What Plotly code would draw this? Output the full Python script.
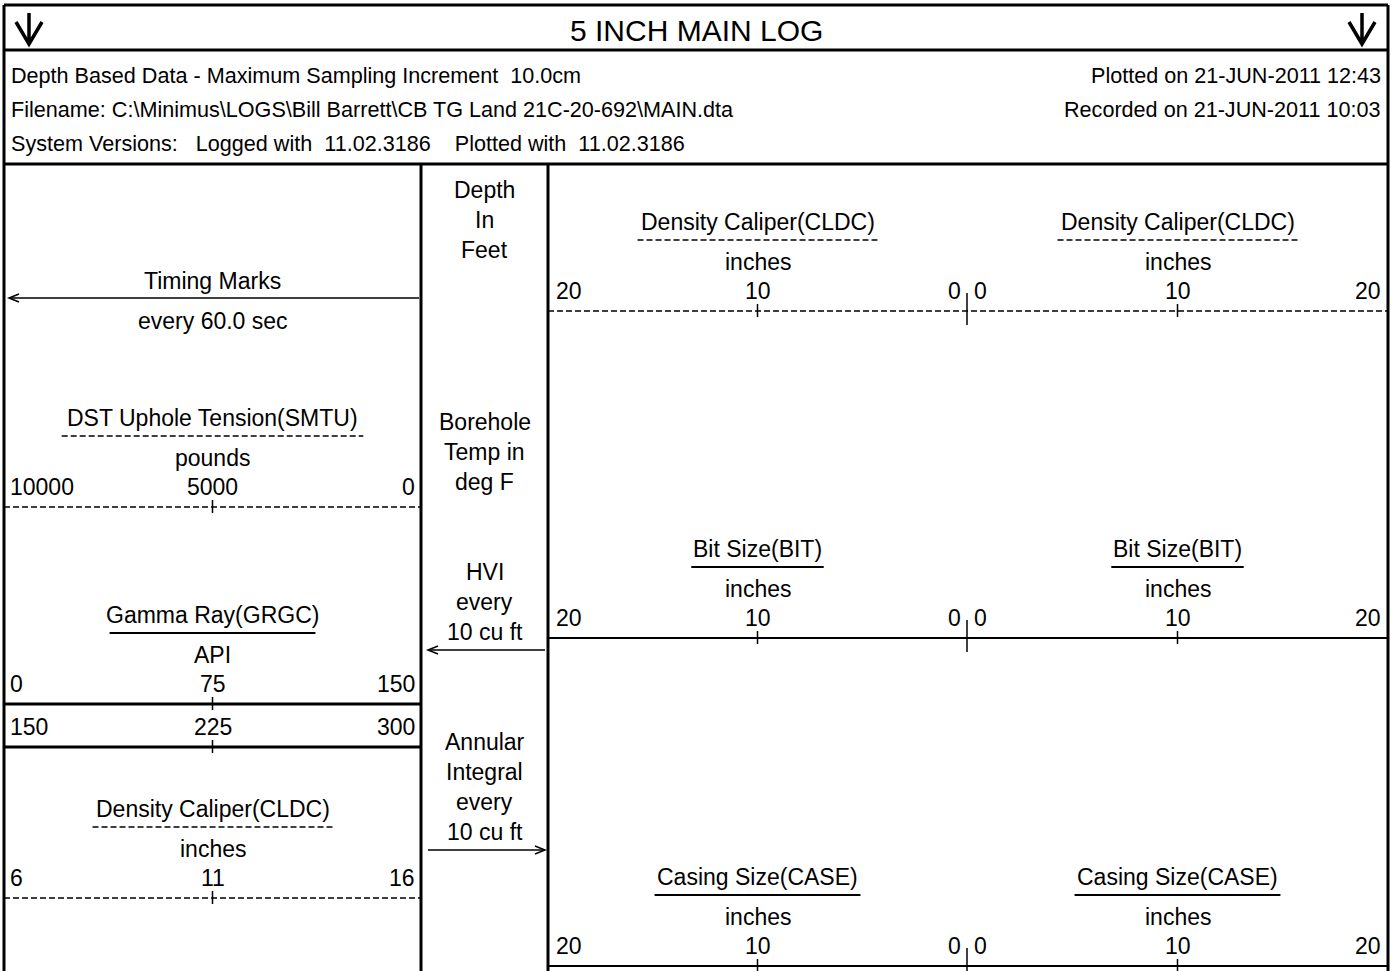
import plotly.graph_objects as go

title_text = "5 INCH MAIN LOG"
header_left = [
    "Depth Based Data - Maximum Sampling Increment  10.0cm",
    "Filename: C:\\Minimus\\LOGS\\Bill Barrett\\CB TG Land 21C-20-692\\MAIN.dta",
    "System Versions:   Logged with  11.02.3186    Plotted with  11.02.3186",
]
header_right = ["Plotted on 21-JUN-2011 12:43", "Recorded on 21-JUN-2011 10:03"]

timing_label = "Timing Marks"
timing_interval = "every 60.0 sec"

left_curves = ["DST Uphole Tension(SMTU)", "Gamma Ray(GRGC)", "Density Caliper(CLDC)"]
left_units = ["pounds", "API", "inches"]
left_scales = [[10000, 5000, 0], [0, 75, 150], [6, 11, 16]]
left_dashed = [True, False, True]
gamma_backup_scale = [150, 225, 300]

depth_track_labels = [
    ["Depth", "In", "Feet"],
    ["Borehole", "Temp in", "deg F"],
    ["HVI", "every", "10 cu ft"],
    ["Annular", "Integral", "every", "10 cu ft"],
]

right_curves = ["Density Caliper(CLDC)", "Bit Size(BIT)", "Casing Size(CASE)"]
right_units = ["inches", "inches", "inches"]
right_scale_left = [20, 10, 0]
right_scale_right = [0, 10, 20]
right_dashed = [True, False, False]

# ---------------- layout geometry ----------------
W, H = 1395, 971
FONT = "Liberation Sans, Arial, sans-serif"
FS = 23
X_L, X_T1, X_T2, X_C, X_R = 4, 421, 548, 967, 1388
Y_TOP, Y_TITLE, Y_HDR = 5, 50, 164
Y_BOT = 990
left_line_y = [507, 704, 898]
right_line_y = [311, 638, 966]
depth_label_y0 = [190, 422, 572, 742]
DASH = "6px,3px"

AW = {' ': 278, '(': 333, ')': 333, 'A': 667, 'B': 667, 'C': 722, 'D': 722, 'E': 667, 'G': 778,
      'I': 278, 'L': 556, 'M': 833, 'R': 722, 'S': 667, 'T': 611, 'U': 722,
      'i': 222, 'l': 222, 't': 278, 'r': 333, 'f': 278, 'j': 222,
      's': 500, 'c': 500, 'k': 500, 'y': 500, 'v': 500, 'x': 500, 'z': 500}


def tw(s, size):
    return sum(AW.get(c, 556) for c in s) * size / 1000.0


def nb(s):
    # keep runs of spaces
    out, prev = "", False
    for c in s:
        out += "\u00a0" if (c == " " and prev) else c
        prev = c == " "
    return out


shapes = []
ann = []


def line(x0, y0, x1, y1, w=1.5, dash=None):
    d = dict(type="line", x0=x0, y0=y0, x1=x1, y1=y1, xref="x", yref="y",
             line=dict(color="black", width=w))
    if dash:
        d["line"]["dash"] = dash
    shapes.append(d)


def path(p, w=1.5):
    shapes.append(dict(type="path", path=p, xref="x", yref="y",
                       line=dict(color="black", width=w)))


def text(s, x, y, anchor="center", size=FS):
    ann.append(dict(text=nb(s), x=x, y=y, xref="x", yref="y", showarrow=False,
                    xanchor=anchor, yanchor="middle", font=dict(family=FONT, size=size, color="black")))


# frame
line(X_L, Y_TOP, X_R, Y_TOP, 3)
line(X_L, Y_TOP, X_L, Y_BOT, 3)
line(X_R, Y_TOP, X_R, Y_BOT, 3)
line(X_L, Y_TITLE, X_R, Y_TITLE, 3)
line(X_L, Y_HDR, X_R, Y_HDR, 3)
line(X_T1, Y_HDR, X_T1, Y_BOT, 3)
line(X_T2, Y_HDR, X_T2, Y_BOT, 3)

# title row
text(title_text, (X_L + X_R) / 2, 30, size=30)
for xc in (29, 1362):
    path(f"M {xc},13 L {xc},44 M {xc-13},22 L {xc},44 L {xc+13},22", 3.5)

# header
for i, s in enumerate(header_left):
    text(s, X_L + 5, 75 + 34 * i, "left", size=21.6)
for i, s in enumerate(header_right):
    text(s, X_R - 5, 75 + 34 * i, "right", size=21.6)

# timing marks
lc = (X_L + X_T1) / 2
text(timing_label, lc, 281)
text(timing_interval, lc, 321)
ty = 298
line(X_T1 - 2, ty, X_L + 5, ty, 1.5)
path(f"M {X_L+15},{ty-4} L {X_L+5},{ty} L {X_L+15},{ty+4}", 1.5)


def curve_block(name, unit, dashed, x0, x1, ly):
    xc = (x0 + x1) / 2
    dash = DASH if dashed else None
    text(name, xc, ly - 89)
    uw = tw(name, 23.6)
    line(xc - uw / 2, ly - 71, xc + uw / 2, ly - 71, 2 if not dashed else 1.5, dash)
    if unit:
        text(unit, xc, ly - 49)


def scale_row(scale, x0, x1, ly, dashed, lw, left_pad=4, right_pad=4):
    xc = (x0 + x1) / 2
    text(str(scale[0]), x0 + left_pad, ly - 20, "left")
    text(str(scale[1]), xc, ly - 20)
    text(str(scale[2]), x1 - right_pad, ly - 20, "right")
    line(x0, ly, x1, ly, lw, DASH if dashed else None)
    line(xc, ly - 7, xc, ly + 6, 1.5)


for k in range(3):
    ly = left_line_y[k]
    curve_block(left_curves[k], left_units[k], left_dashed[k], X_L, X_T1, ly)
    scale_row(left_scales[k], X_L, X_T1, ly, left_dashed[k], 1.5 if left_dashed[k] else 3)
# gamma ray backup scale
gy = left_line_y[1] + 43
scale_row(gamma_backup_scale, X_L, X_T1, gy, False, 3)

# depth track
dc = (X_T1 + X_T2) / 2
for lines_, y0 in zip(depth_track_labels, depth_label_y0):
    for j, s in enumerate(lines_):
        text(s, dc, y0 + 30 * j)
# HVI arrow (points left)
hy = 650
line(X_T2 - 3, hy, X_T1 + 7, hy, 1.5)
path(f"M {X_T1+17},{hy-4} L {X_T1+7},{hy} L {X_T1+17},{hy+4}", 1.5)
# Annular integral arrow (points right)
ay = 850
line(X_T1 + 7, ay, X_T2 - 3, ay, 1.5)
path(f"M {X_T2-13},{ay-4} L {X_T2-3},{ay} L {X_T2-13},{ay+4}", 1.5)

# right track
for k in range(3):
    ly = right_line_y[k]
    dashed = right_dashed[k]
    for (x0, x1, sc) in ((X_T2, X_C, right_scale_left), (X_C, X_R, right_scale_right)):
        curve_block(right_curves[k], right_units[k], dashed, x0, x1, ly)
        xc = (x0 + x1) / 2
        lp = 6 if x0 == X_T2 else 5
        rp = 4 if x1 == X_C else 5
        text(str(sc[0]), x0 + lp, ly - 20, "left")
        text(str(sc[1]), xc, ly - 20)
        text(str(sc[2]), x1 - rp, ly - 20, "right")
        line(xc, ly - 7, xc, ly + 6, 1.5)
    line(X_T2, ly, X_R, ly, 1.5 if dashed else 2, DASH if dashed else None)
    line(X_C, ly - 18, X_C, ly + 14, 1.5)

fig = go.Figure()
fig.update_layout(
    width=W, height=H, margin=dict(l=0, r=0, t=0, b=0),
    paper_bgcolor="white", plot_bgcolor="white",
    xaxis=dict(range=[0, W], visible=False, fixedrange=True),
    yaxis=dict(range=[H, 0], visible=False, fixedrange=True),
    shapes=shapes, annotations=ann, showlegend=False,
)
fig.write_html(
    "out.html",
    config={"displayModeBar": False},
    post_script="document.body.style.margin='0';document.body.style.padding='0';"
                "document.body.style.overflow='hidden';",
)
